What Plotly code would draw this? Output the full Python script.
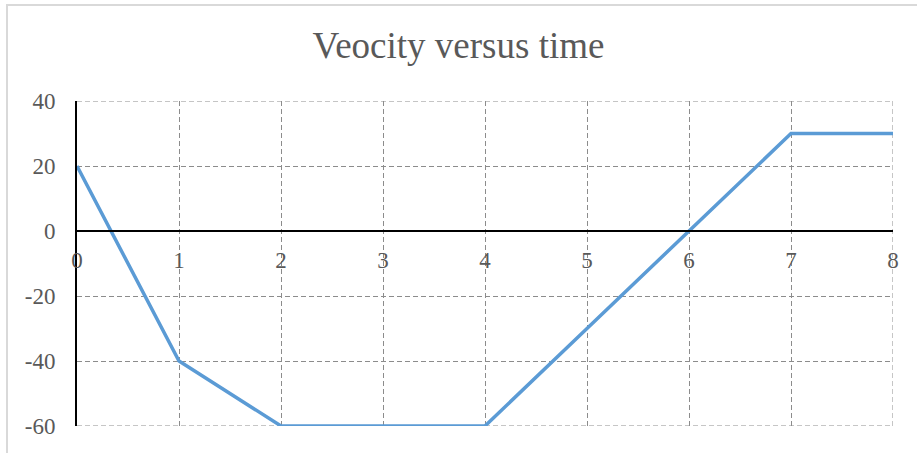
import plotly.graph_objects as go

time_s = [0, 1, 2, 3, 4, 5, 6, 7, 8]
velocity = [20, -40, -60, -60, -60, -30, 0, 30, 30]
x_ticks = [0, 1, 2, 3, 4, 5, 6, 7, 8]
y_ticks = [-60, -40, -20, 0, 20, 40]

W, H = 917, 453
L, R, T, B = 77, 24, 101, 27
pw, ph = W - L - R, H - T - B

def px_x(p):
    return (p - L) / pw

def px_y(p):
    return (H - B - p) / ph

GRID = "#8C8C8C"
DASH = "5px,3px"

fig = go.Figure()
fig.add_trace(go.Scatter(
    x=time_s, y=velocity, mode="lines",
    line=dict(color="#5B9BD5", width=3.5),
    showlegend=False, hoverinfo="skip",
))

font = dict(family="Liberation Serif, Times New Roman, serif", color="#595959")

edge_lines = [
    dict(type="line", xref="x", yref="y", x0=x_ticks[0], x1=x_ticks[-1], y0=y_ticks[-1], y1=y_ticks[-1],
         line=dict(color=GRID, width=1, dash=DASH), layer="below"),
    dict(type="line", xref="x", yref="y", x0=x_ticks[0], x1=x_ticks[-1], y0=y_ticks[0], y1=y_ticks[0],
         line=dict(color=GRID, width=1, dash=DASH), layer="below"),
    dict(type="line", xref="x", yref="y", x0=x_ticks[-1], x1=x_ticks[-1], y0=y_ticks[0], y1=y_ticks[-1],
         line=dict(color=GRID, width=1, dash=DASH), layer="below"),
]

fig.update_layout(
    width=W, height=H,
    margin=dict(l=L, r=R, t=T, b=B, autoexpand=False),
    paper_bgcolor="white", plot_bgcolor="white",
    title=dict(text="Veocity versus time", x=0.5, xanchor="center",
               y=1 - 45 / H, yanchor="middle",
               font=dict(size=37, **font)),
    xaxis=dict(range=[0, 8], tickvals=x_ticks, ticktext=[str(v) for v in x_ticks],
               showgrid=True, gridcolor=GRID, gridwidth=1, griddash=DASH,
               zeroline=False, showline=True, linecolor="black", linewidth=2,
               anchor="free", position=0.6, ticks="", ticklabelstandoff=8,
               automargin=False,
               tickfont=dict(size=23, **font)),
    yaxis=dict(range=[-60, 40], tickvals=y_ticks, ticktext=[str(v) for v in y_ticks],
               showgrid=True, gridcolor=GRID, gridwidth=1, griddash=DASH,
               zeroline=False, showline=True, linecolor="black", linewidth=2,
               ticks="", ticklabelstandoff=15, automargin=False,
               tickfont=dict(size=23, **font)),
    shapes=[dict(type="rect", xref="paper", yref="paper",
                 x0=px_x(7), x1=px_x(W + 20), y0=px_y(H + 20), y1=px_y(5),
                 line=dict(color="#D9D9D9", width=2), fillcolor="rgba(0,0,0,0)",
                 layer="below")] + edge_lines,
)

fig.write_html("out.html", config={"displayModeBar": False},
               post_script="document.body.style.margin='0';document.body.style.overflow='hidden';")
